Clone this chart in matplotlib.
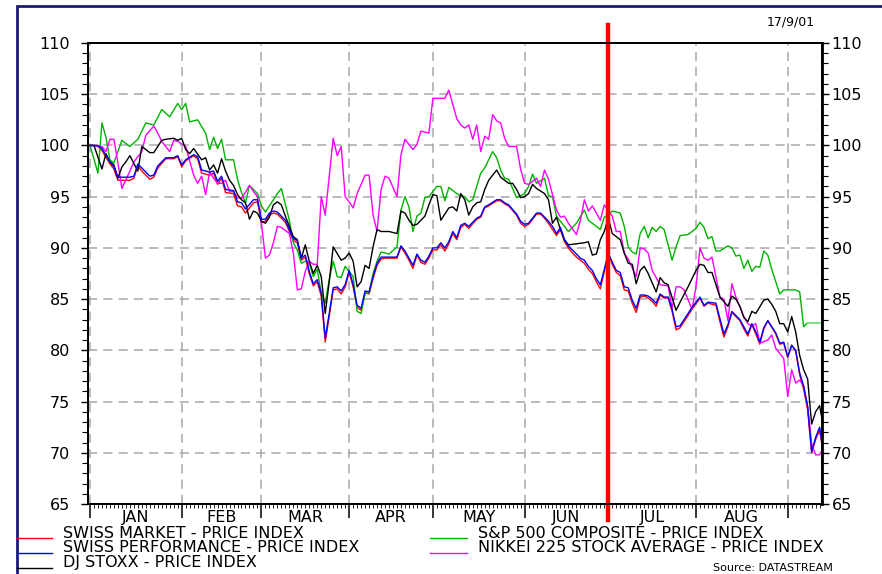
"""
Swiss market vs. world indices, Jan - Sep 2001 (Datastream style chart)
"""

import matplotlib
matplotlib.use('Agg')
import matplotlib.pyplot as plt
from matplotlib.lines import Line2D
from matplotlib.patches import Rectangle

plt.rcParams['font.family'] = ['DejaVu Sans']

# x = trading day index, 0 = 1 Jan 2001
months = ['JAN', 'FEB', 'MAR', 'APR', 'MAY', 'JUN', 'JUL', 'AUG']
month_starts = [0, 23, 43, 65, 86, 109, 130, 152, 175]
last_day = 184
red_day = 130  # 2 Jul 2001 marker
date_label = '17/9/01'
source_label = 'Source: DATASTREAM'

smi_name = 'SWISS MARKET - PRICE INDEX'
spi_name = 'SWISS PERFORMANCE - PRICE INDEX'
stoxx_name = 'DJ STOXX - PRICE INDEX'
sp_name = 'S&P 500 COMPOSITE - PRICE INDEX'
nikkei_name = 'NIKKEI 225 STOCK AVERAGE - PRICE INDEX'

swiss_days = [0, 1, 2, 3, 5, 6, 7, 10, 11, 12, 13, 15, 16, 17, 19, 21, 22, 23, 24, 26, 27, 28, 30,
              31, 32, 33, 34, 36, 37, 38, 39, 41, 42, 43, 44, 45, 46, 47, 49, 51, 52, 53, 54, 55,
              56, 57, 58, 59, 60, 61, 62, 63, 64, 65, 66, 67, 68, 69, 70, 71, 72, 73, 74, 77, 78,
              79, 80, 81, 82, 83, 84, 85, 86, 87, 88, 89, 90, 91, 92, 93, 94, 95, 97, 98, 99, 100,
              102, 103, 104, 105, 107, 108, 109, 110, 111, 112, 113, 114, 115, 116, 117, 118, 119,
              120, 121, 122, 123, 124, 125, 126, 127, 128, 129, 130, 131, 132, 133, 134, 135, 136,
              137, 138, 139, 140, 141, 142, 143, 144, 145, 146, 147, 148, 150, 151, 153, 154, 155,
              157, 158, 159, 160, 161, 163, 164, 165, 166, 167, 168, 169, 170, 172, 173, 174, 175,
              176, 177, 178, 179, 180, 181, 182, 183, 184]
spi_vals = [100, 100.0, 100.0, 99.7, 98.4, 97.9, 96.9, 96.9, 97.0, 98.2, 97.8, 97.0, 97.1, 98.0,
            98.8, 98.8, 99.0, 98.1, 98.6, 99.1, 98.9, 97.6, 97.4, 97.5, 96.5, 97.0, 95.7, 95.6,
            94.5, 94.4, 93.8, 94.7, 94.7, 92.8, 92.8, 93.4, 93.6, 93.5, 92.7, 90.9, 90.7, 89.0,
            89.3, 87.7, 86.5, 86.9, 85.6, 81.2, 83.6, 86.1, 86.2, 85.8, 86.4, 87.8, 86.4, 84.4,
            84.1, 85.8, 85.7, 87.2, 88.5, 89.1, 89.1, 89.1, 90.2, 89.7, 89.0, 88.3, 89.4, 88.8,
            88.6, 89.2, 90.0, 90.0, 90.5, 90.0, 90.6, 91.6, 91.0, 92.2, 92.4, 92.1, 92.9, 93.1,
            94.0, 94.2, 94.7, 94.7, 94.4, 94.2, 93.3, 92.6, 92.3, 92.4, 92.9, 93.4, 93.4, 93.0,
            92.6, 92.1, 91.4, 92.0, 90.8, 90.2, 89.8, 89.4, 89.0, 88.8, 88.2, 87.8, 87.0, 86.4,
            87.9, 89.5, 88.6, 87.8, 87.6, 86.2, 86.1, 84.9, 84.1, 85.4, 85.4, 85.3, 85.0, 84.6,
            85.5, 85.2, 85.2, 84.0, 82.3, 82.4, 83.6, 84.2, 85.2, 84.4, 84.7, 84.6, 83.1, 81.6,
            82.5, 83.8, 83.0, 82.3, 81.6, 82.6, 81.8, 80.8, 82.2, 82.9, 81.7, 80.7, 80.8, 79.4,
            80.5, 80.0, 77.8, 76.5, 74.5, 70.1, 71.5, 72.5, 69.9]
smi_vals = [100, 100.0, 99.9, 99.5, 98.2, 97.7, 96.6, 96.6, 96.8, 98.0, 97.5, 96.7, 96.9, 97.8,
            98.7, 98.7, 98.9, 97.9, 98.5, 99.0, 98.7, 97.3, 97.1, 97.3, 96.2, 96.8, 95.4, 95.3,
            94.1, 94.0, 93.4, 94.4, 94.5, 92.5, 92.6, 93.2, 93.4, 93.3, 92.5, 90.7, 90.5, 88.8,
            89.1, 87.5, 86.3, 86.7, 85.3, 80.8, 83.3, 85.9, 86.0, 85.5, 86.2, 87.6, 86.2, 84.2,
            83.9, 85.6, 85.5, 87.0, 88.3, 88.9, 89.0, 89.0, 90.1, 89.5, 88.8, 88.0, 89.3, 88.6,
            88.4, 89.0, 89.8, 89.8, 90.3, 89.7, 90.4, 91.4, 90.8, 92.0, 92.3, 91.9, 92.8, 93.0,
            93.9, 94.1, 94.6, 94.6, 94.3, 94.1, 93.2, 92.4, 92.1, 92.3, 92.8, 93.3, 93.3, 92.9,
            92.4, 91.8, 91.2, 91.8, 90.6, 90.0, 89.5, 89.1, 88.8, 88.5, 87.9, 87.5, 86.7, 86.0,
            87.7, 89.4, 88.4, 87.6, 87.3, 85.9, 85.8, 84.6, 83.7, 85.2, 85.3, 85.1, 84.8, 84.3,
            85.4, 85.1, 85.1, 83.8, 82.0, 82.2, 83.4, 84.0, 85.1, 84.3, 84.6, 84.4, 82.8, 81.3,
            82.3, 83.7, 82.9, 82.1, 81.4, 82.5, 81.6, 80.6, 82.1, 82.9, 81.6, 80.6, 80.7, 79.3,
            80.5, 79.9, 77.6, 76.2, 74.2, 70.0, 71.3, 72.2, 69.8]

stoxx_days = [0, 1, 3, 4, 5, 6, 7, 8, 9, 10, 12, 13, 14, 15, 16, 18, 19, 21, 22, 23, 24, 25, 26,
              28, 29, 30, 31, 32, 33, 34, 35, 36, 37, 38, 39, 40, 41, 42, 43, 44, 45, 46, 47, 48,
              49, 51, 52, 53, 54, 55, 56, 57, 58, 59, 60, 61, 63, 64, 65, 66, 67, 68, 69, 70, 71,
              72, 73, 75, 77, 78, 79, 80, 81, 82, 84, 85, 86, 87, 88, 90, 91, 92, 93, 94, 95, 96,
              97, 98, 99, 100, 102, 103, 104, 105, 106, 107, 108, 109, 110, 111, 112, 114, 115,
              116, 117, 118, 119, 120, 122, 124, 125, 126, 127, 128, 129, 130, 131, 133, 134, 135,
              136, 137, 138, 139, 140, 142, 143, 144, 145, 147, 148, 150, 152, 153, 154, 155, 156,
              158, 160, 161, 162, 163, 164, 165, 166, 167, 169, 170, 171, 172, 173, 174, 175, 176,
              177, 178, 179, 180, 181, 182, 183, 184]
stoxx_vals = [100, 100.0, 97.7, 99.2, 98.4, 98.1, 96.8, 97.9, 98.4, 99.0, 97.5, 99.9, 99.6, 99.3,
              99.3, 100.5, 100.6, 100.7, 100.5, 100.7, 99.6, 99.2, 99.7, 98.6, 98.8, 97.6, 98.1,
              97.3, 98.7, 97.5, 96.6, 96.1, 95.2, 94.7, 94.4, 92.8, 93.6, 93.4, 92.6, 92.4, 93.0,
              94.2, 94.5, 94.2, 93.1, 91.1, 90.8, 89.0, 90.3, 88.7, 87.5, 88.3, 87.2, 83.6, 86.7,
              90.1, 88.8, 89.0, 89.5, 88.7, 86.2, 86.7, 88.3, 88.0, 90.1, 91.8, 91.6, 91.6, 91.4,
              93.6, 93.4, 92.7, 92.2, 92.3, 93.1, 94.2, 95.2, 95.1, 92.7, 93.9, 94.0, 93.6, 95.3,
              94.7, 93.2, 94.0, 94.4, 94.5, 95.7, 96.6, 97.6, 96.9, 96.6, 96.3, 96.3, 95.7, 94.9,
              95.0, 95.3, 96.2, 95.8, 95.3, 94.7, 92.4, 93.0, 91.8, 90.8, 90.3, 90.4, 90.5, 90.6,
              89.3, 89.4, 90.8, 91.6, 92.9, 91.4, 90.8, 89.5, 88.5, 88.4, 86.5, 87.8, 88.2, 87.5,
              85.7, 87.1, 86.6, 86.4, 83.9, 84.7, 86.2, 87.8, 88.4, 88.3, 87.6, 87.6, 85.2, 84.3,
              85.3, 85.0, 84.3, 83.2, 82.8, 83.8, 83.6, 84.9, 85.0, 84.5, 83.8, 82.6, 82.6, 81.8,
              83.3, 81.8, 79.5, 78.1, 77.2, 72.8, 74.0, 74.6, 72.4]

sp_days = [0, 2, 3, 4, 5, 6, 8, 10, 12, 14, 16, 18, 20, 22, 23, 24, 25, 27, 29, 30, 31, 32, 33,
           34, 36, 37, 38, 39, 40, 42, 43, 44, 46, 47, 48, 50, 51, 52, 53, 54, 55, 56, 57, 58, 59,
           60, 61, 62, 63, 64, 66, 67, 68, 69, 70, 71, 72, 73, 75, 77, 78, 79, 80, 81, 82, 83, 84,
           85, 87, 88, 89, 90, 91, 92, 93, 94, 95, 96, 98, 99, 101, 102, 103, 104, 105, 107, 109,
           110, 111, 112, 114, 115, 116, 117, 119, 120, 122, 124, 125, 127, 128, 129, 130, 131,
           132, 133, 134, 135, 136, 137, 138, 139, 140, 141, 142, 143, 144, 146, 147, 148, 150,
           152, 153, 154, 155, 156, 157, 158, 160, 161, 162, 163, 164, 165, 166, 167, 168, 169,
           170, 171, 172, 173, 174, 175, 177, 178, 179, 180, 184]
sp_vals = [100, 97.3, 102.2, 100.8, 98.6, 98.3, 100.5, 99.9, 100.6, 102.2, 102.0, 103.5, 102.8,
           104.1, 103.5, 104.1, 102.3, 102.5, 101.2, 99.6, 100.8, 99.7, 100.6, 98.6, 98.6, 96.7,
           95.4, 94.4, 96.1, 95.3, 94.1, 93.5, 94.7, 95.3, 95.8, 92.7, 90.5, 89.8, 88.5, 88.7,
           88.5, 87.2, 87.9, 85.6, 84.6, 86.9, 88.7, 87.2, 87.1, 88.2, 87.2, 83.8, 83.6, 85.6,
           85.6, 87.5, 88.7, 89.6, 89.4, 90.1, 93.7, 95.0, 94.0, 91.6, 93.1, 93.4, 94.9, 95.0,
           96.0, 96.0, 94.6, 95.9, 95.6, 95.3, 95.1, 95.0, 94.5, 94.7, 97.3, 97.8, 99.4, 98.8,
           97.6, 96.8, 96.7, 94.9, 95.3, 96.0, 97.2, 96.3, 96.8, 95.1, 95.0, 93.1, 92.1, 91.6,
           92.4, 93.7, 92.7, 92.1, 91.8, 93.0, 93.2, 93.6, 93.5, 93.4, 92.1, 90.1, 89.6, 89.4,
           91.4, 92.1, 91.0, 92.0, 91.6, 92.1, 91.8, 88.8, 90.1, 91.2, 91.3, 91.9, 92.5, 92.0,
           90.9, 91.1, 89.7, 89.7, 90.2, 90.0, 89.2, 89.3, 88.0, 88.8, 87.7, 88.2, 88.1, 89.7,
           89.3, 87.9, 86.7, 85.5, 85.9, 85.9, 85.9, 85.7, 82.3, 82.7, 82.7]

nikkei_days = [0, 3, 4, 5, 6, 7, 8, 10, 11, 13, 14, 16, 17, 18, 20, 21, 22, 24, 26, 27, 28, 29, 30,
               31, 32, 33, 34, 35, 36, 37, 38, 40, 41, 42, 43, 44, 45, 46, 47, 48, 49, 50, 51, 52,
               53, 54, 55, 56, 57, 58, 59, 61, 62, 63, 64, 65, 66, 67, 69, 70, 71, 72, 73, 74, 75,
               77, 78, 79, 81, 82, 83, 85, 86, 89, 90, 92, 93, 94, 95, 96, 97, 98, 99, 100, 101,
               102, 103, 104, 105, 106, 107, 108, 109, 110, 112, 113, 114, 115, 117, 118, 119, 120,
               122, 123, 124, 125, 126, 128, 129, 130, 131, 132, 133, 134, 135, 137, 138, 139, 140,
               141, 143, 145, 146, 147, 148, 149, 151, 152, 153, 154, 155, 156, 158, 159, 160, 161,
               162, 164, 165, 166, 167, 168, 170, 171, 172, 173, 174, 175, 176, 177, 178, 179, 180,
               181, 182, 183, 184]
nikkei_vals = [100, 99.9, 99.4, 100.6, 100.6, 98.3, 95.8, 97.5, 98.4, 99.4, 101.0, 101.9, 101.2,
               100.4, 99.4, 100.5, 100.4, 99.9, 97.1, 96.3, 97.0, 95.2, 97.4, 96.8, 96.3, 96.3,
               96.6, 95.5, 95.5, 94.9, 94.8, 96.1, 95.5, 95.0, 92.4, 89.0, 89.3, 90.5, 92.1, 92.0,
               91.7, 91.4, 89.5, 85.9, 86.0, 87.7, 88.7, 88.4, 88.4, 95.0, 93.2, 100.7, 99.0, 99.9,
               95.0, 94.5, 93.9, 95.3, 97.1, 97.1, 93.2, 91.6, 95.7, 97.0, 96.8, 95.0, 99.1, 100.6,
               99.6, 100.1, 101.4, 101.2, 104.6, 104.6, 105.4, 102.6, 102.0, 101.7, 102.0, 100.6,
               102.0, 99.4, 100.9, 100.6, 103.0, 102.4, 102.2, 100.7, 99.9, 99.9, 99.9, 97.7, 96.3,
               96.2, 96.8, 96.0, 97.6, 96.7, 93.7, 93.0, 93.1, 92.4, 91.3, 92.7, 94.7, 93.6, 94.1,
               92.7, 94.2, 93.6, 93.1, 91.6, 91.6, 89.5, 88.9, 87.2, 90.0, 89.9, 89.5, 87.8, 86.4,
               86.3, 84.1, 86.2, 86.2, 85.9, 84.0, 86.2, 90.0, 89.0, 88.8, 89.1, 85.2, 85.0, 82.9,
               86.5, 85.2, 83.3, 82.6, 82.4, 82.6, 80.7, 81.0, 81.5, 80.2, 79.7, 79.2, 75.5, 78.1,
               76.8, 77.1, 76.5, 74.5, 70.9, 69.8, 69.8, 70.5]

y_ticks = [65, 70, 75, 80, 85, 90, 95, 100, 105, 110]

W, H = 882, 574


def fx(px):
    return px / W


def fy(py):
    return 1 - py / H


fig = plt.figure(figsize=(W / 100, H / 100), dpi=100)
ax = fig.add_axes([fx(88), fy(504), (822 - 88) / W, (504 - 43) / H])

ax.plot(swiss_days, smi_vals, color='#ff0000', lw=1.0, zorder=3)
ax.plot(swiss_days, spi_vals, color='#0000ff', lw=1.0, zorder=4)
ax.plot(sp_days[:-1], sp_vals[:-1], color='#00b400', lw=1.0, zorder=3)
ax.plot(sp_days[-2:], sp_vals[-2:], color='#80e080', lw=1.4, zorder=3)  # US markets closed
ax.plot(nikkei_days, nikkei_vals, color='#ff00ff', lw=1.0, zorder=3)
ax.plot(stoxx_days, stoxx_vals, color='black', lw=1.0, zorder=3)

ax.axvline(red_day, ymin=-0.035, ymax=1.04, color='#ff0000', lw=3.2, clip_on=False, zorder=6)

ax.set_xlim(-0.5, 183.6)
ax.set_ylim(65, 110)

# grid
for y in y_ticks[1:-1]:
    ax.axhline(y, color='#a8a8a8', lw=1.1, ls=(0, (6, 4)), zorder=1)
for d in month_starts:
    ax.axvline(d, color='#a8a8a8', lw=1.1, ls=(0, (6, 4)), zorder=1)

# x axis: daily minor ticks, month boundaries major
ax.set_xticks(month_starts)
ax.set_xticklabels([])
ax.set_xticks(range(0, last_day), minor=True)
ax.tick_params(axis='x', which='major', length=10, width=1.1, direction='out')
ax.tick_params(axis='x', which='minor', length=3, width=0.6, direction='out')
for i, m in enumerate(months):
    mid = (month_starts[i] + month_starts[i + 1]) / 2
    ax.text(mid, -0.029, m, transform=ax.get_xaxis_transform(), ha='center', va='center',
            fontsize=11.5)

# y axis, left
ax.set_yticks(y_ticks)
ax.set_yticks(range(65, 111), minor=True)
ax.tick_params(axis='y', which='major', length=5, width=1, direction='out', labelsize=11.5, pad=8)
ax.tick_params(axis='y', which='minor', length=4, width=0.8, direction='out')

# y axis, right
ax2 = ax.twinx()
ax2.set_ylim(65, 110)
ax2.set_yticks(y_ticks)
ax2.set_yticks(range(65, 111), minor=True)
ax2.tick_params(axis='y', which='major', length=5, width=1, direction='out', labelsize=11.5, pad=2)
ax2.tick_params(axis='y', which='minor', length=4, width=0.8, direction='out')

for a in (ax, ax2):
    for s in a.spines.values():
        s.set_linewidth(1.3)
ax2.spines['right'].set_linewidth(2)

# outer frame
fig.patches.append(Rectangle((fx(17), -0.2), 1.2, fy(6) + 0.2, transform=fig.transFigure,
                             fill=False, edgecolor='#1a1a7a', lw=2, clip_on=False))

fig.text(fx(815), fy(22), date_label, ha='right', va='center', fontsize=9)
fig.text(fx(713), fy(573), source_label, ha='left', va='bottom', fontsize=8)

# legend drawn like the original
legend_rows = [
    (17, 52, 63, 533, '#ff0000', smi_name),
    (17, 52, 63, 548, '#0000ff', spi_name),
    (17, 52, 63, 563, 'black', stoxx_name),
    (430, 467, 478, 533, '#00b400', sp_name),
    (430, 467, 478, 548, '#ff00ff', nikkei_name),
]
for x0, x1, xt, yt, c, name in legend_rows:
    fig.add_artist(Line2D([fx(x0), fx(x1)], [fy(yt + 5), fy(yt + 5)], color=c, lw=1.0,
                          transform=fig.transFigure))
    fig.text(fx(xt), fy(yt), name, ha='left', va='center', fontsize=11.5)

fig.savefig('out.png', dpi=100)
